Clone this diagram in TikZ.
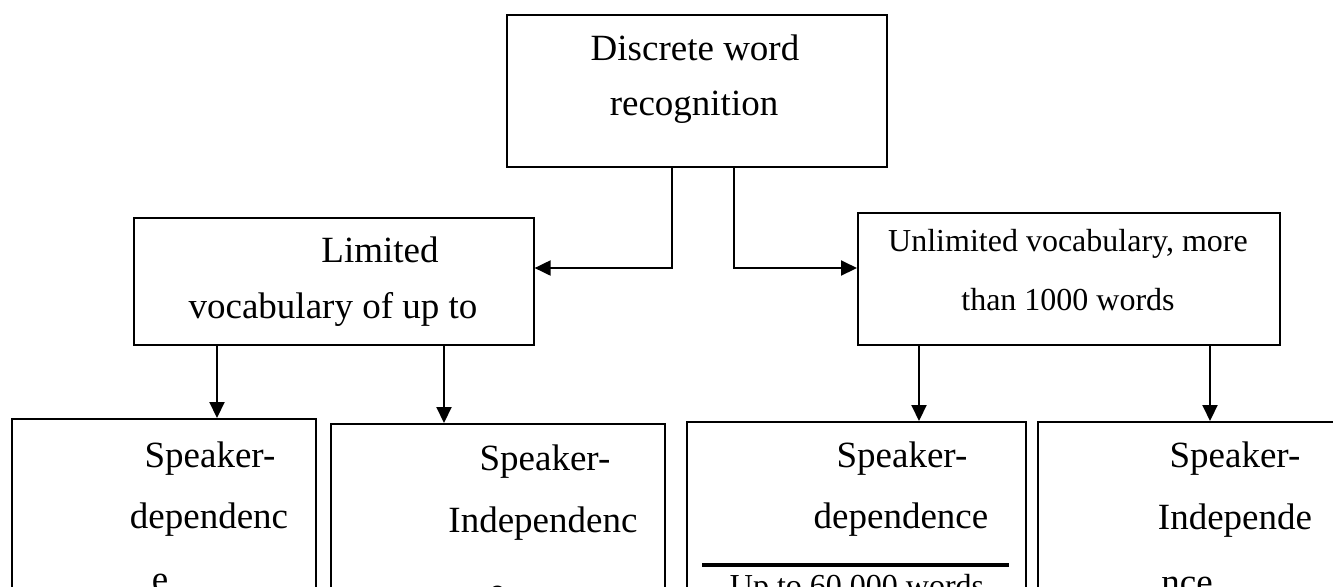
\documentclass[tikz,border=0pt]{standalone}
\usepackage{fontspec}
\setmainfont{Liberation Serif}
\usetikzlibrary{arrows.meta}
\tikzset{
  box/.style={
    draw=black,
    line width=0.8pt,
    inner sep=0pt,
    anchor=north west
  },
  txt/.style={
    font=\fontsize{18.5}{22}\selectfont,
    anchor=base,
    inner sep=0pt
  },
  smalltxt/.style={
    font=\fontsize{16}{19}\selectfont,
    anchor=base,
    inner sep=0pt
  },
  arr/.style={
    line width=1pt,
    -{Triangle[length=8pt,width=7.5pt]}
  }
}

\begin{document}
\begin{tikzpicture}[x=0.5pt,y=-0.5pt]
  \useasboundingbox (0,0) rectangle (1333,586);
  \clip (0,0) rectangle (1333,586);

  % boxes
  \node[box, minimum width=190pt, minimum height=76pt] (top) at (506,14) {};
  \node[box, minimum width=200pt, minimum height=63.5pt] (lim) at (133,217) {};
  \node[box, minimum width=211pt, minimum height=66pt] (unl) at (857,212) {};
  \node[box, minimum width=152pt, minimum height=110pt] (sd1) at (11,418) {};
  \node[box, minimum width=167pt, minimum height=110pt] (si1) at (330,423) {};
  \node[box, minimum width=169.5pt, minimum height=110pt] (sd2) at (686,421) {};
  \node[box, minimum width=151.5pt, minimum height=110pt] (si2) at (1037,421) {};

  % texts
  \node[txt] (top-a) at (695,60) {Discrete word};
  \node[txt] (top-b) at (694,115) {recognition};
  \node[txt] (lim-a) at (380,262) {Limited};
  \node[txt] (lim-b) at (333,318) {vocabulary of up to};
  \node[smalltxt] (unl-a) at (1068,251) {Unlimited vocabulary, more};
  \node[smalltxt] (unl-b) at (1068,310) {than 1000 words};
  \node[txt] (sd1-a) at (210,467) {Speaker-};
  \node[txt] (sd1-b) at (209,528) {dependenc};
  \node[txt] (sd1-c) at (160,591) {e};
  \node[txt] (si1-a) at (545,470) {Speaker-};
  \node[txt] (si1-b) at (543,532) {Independenc};
  \node[txt] (si1-c) at (497,603) {e};
  \node[txt] (sd2-a) at (902,467) {Speaker-};
  \node[txt] (sd2-b) at (901,528) {dependence};
  \draw[line width=2pt] (702,565) -- (1009,565);
  \node[smalltxt] (sd2-c) at (857,596) {Up to 60,000 words};
  \node[txt] (si2-a) at (1235,467) {Speaker-};
  \node[txt] (si2-b) at (1235,529) {Independe};
  \node[txt] (si2-c) at (1187,594) {nce};

  % connectors
  \draw[arr] (top.south -| 672,0) |- (lim.east |- 0,268);
  \draw[arr] (top.south -| 734,0) |- (unl.west |- 0,268);
  \draw[arr] (lim.south -| 217,0) -- (sd1.north -| 217,0);
  \draw[arr] (lim.south -| 444,0) -- (si1.north -| 444,0);
  \draw[arr] (unl.south -| 919,0) -- (sd2.north -| 919,0);
  \draw[arr] (unl.south -| 1210,0) -- (si2.north -| 1210,0);
\end{tikzpicture}
\end{document}
